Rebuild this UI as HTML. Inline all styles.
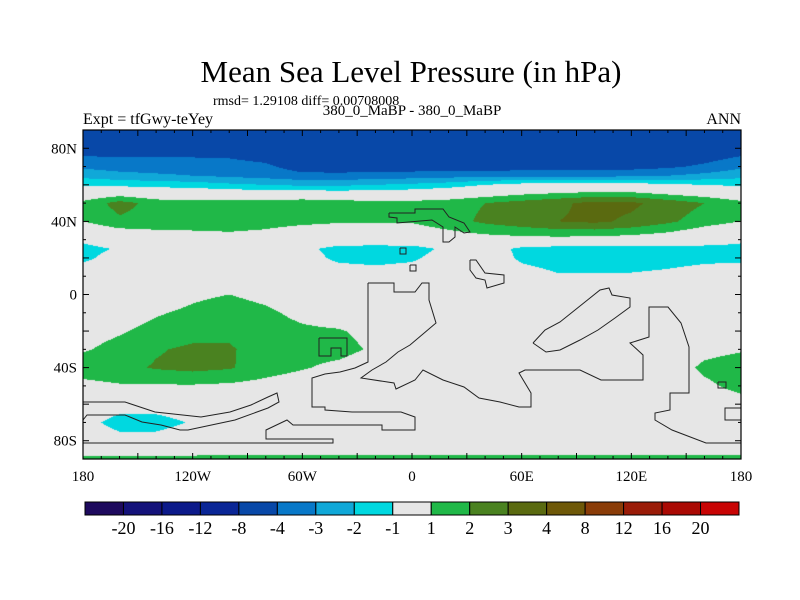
<!DOCTYPE html>
<html><head><meta charset="utf-8"><style>
body{margin:0;background:#fff;width:800px;height:600px;overflow:hidden;position:relative;font-family:"Liberation Serif",serif;}
.t{position:absolute;white-space:nowrap;color:#000;}
</style></head><body>
<div class="t" style="left:0;width:822px;text-align:center;top:54px;font-size:31px;">Mean Sea Level Pressure (in hPa)</div>
<div class="t" style="left:213px;top:94px;font-size:14px;">rmsd= 1.29108 diff= 0.00708008</div>
<div class="t" style="left:0;width:824px;text-align:center;top:103px;font-size:15px;">380_0_MaBP - 380_0_MaBP</div>
<div class="t" style="left:83px;top:111px;font-size:16px;">Expt = tfGwy-teYey</div>
<div class="t" style="right:59px;top:111px;font-size:16px;">ANN</div>
<canvas id="cv" width="658" height="329" style="position:absolute;left:83px;top:130px;"></canvas>
<svg id="sv" width="800" height="600" style="position:absolute;left:0;top:0;"></svg>
<script>
const lons=[-180,-160,-140,-120,-100,-80,-60,-40,-20,0,20,40,60,80,100,120,140,160,180];
const lats=[90,80,70,65,60,50,40,30,25,20,10,0,-10,-20,-30,-40,-50,-60,-70,-80,-90];
const r90=[-6,-6,-6,-6,-6,-6,-6,-6,-6,-6,-6,-6,-6,-6,-6,-6,-6,-6,-6];
const r80=[-4.6,-4.5,-4.4,-4.4,-4.5,-4.8,-5.5,-5.5,-5.5,-5.5,-5.5,-5.5,-5.5,-5.5,-5.5,-5.5,-5.3,-5.0,-4.6];
const r70=[-3.2,-3.5,-3.6,-3.6,-3.6,-3.8,-4.5,-4.6,-4.6,-4.6,-4.6,-4.6,-4.5,-4.5,-4.4,-4.4,-4.2,-3.8,-3.2];
const r65=[-2.3,-2.6,-2.8,-3.0,-3.2,-3.4,-3.7,-3.7,-3.6,-3.5,-3.4,-3.3,-3.3,-3.3,-3.3,-3.2,-3.0,-2.7,-2.3];
const r60=[-1.2,-1.3,-1.4,-1.5,-1.8,-2.0,-2.2,-2.2,-2.0,-1.8,-1.5,-1.0,-0.6,-0.5,-0.5,-0.5,-0.8,-1.0,-1.2];
const r50=[1.3,2.4,1.6,1.5,1.5,1.6,1.8,1.6,1.4,1.4,1.6,2.0,2.4,2.8,3.3,3.2,2.6,2.0,1.3];
const r40=[1.0,1.8,1.6,1.5,1.4,1.3,1.2,1.1,1.1,1.1,1.6,2.2,2.6,3.0,3.2,2.8,2.2,1.5,1.0];
const r30=[-0.8,-0.3,0.3,0.5,0.7,0.6,0.2,0,0,0,0.3,0.5,0.6,0.6,0.5,0.4,0.2,-0.3,-0.8];
const r25=[-1.3,-0.9,-0.3,0,0,0,-0.6,-1.5,-1.6,-1.5,-0.7,-0.3,-1.3,-1.6,-1.7,-1.6,-1.5,-1.4,-1.3];
const r20=[-1.2,-0.6,-0.2,0,0,0,-0.4,-1.3,-1.4,-1.2,-0.4,-0.2,-1.2,-1.5,-1.5,-1.4,-1.3,-1.2,-1.2];
const r10=[-0.4,-0.2,0,0.2,0.3,0.2,0,-0.2,-0.4,-0.3,-0.2,-0.2,-0.5,-0.9,-0.9,-0.9,-0.8,-0.6,-0.4];
const r00=[0,0.1,0.4,0.8,1.0,0.7,0.2,0,0,0,0,0,0,0,0,0,0,0,0];
const rS10=[0.3,0.5,0.9,1.2,1.5,1.2,0.7,0.3,0,0,0,0,0,0,0,0,0,0,0.3];
const rS20=[0.6,0.9,1.3,1.6,1.8,1.5,1.2,1.1,0.6,0,0,0,0,0,0,0,0,0,0.6];
const rS30=[0.9,1.3,1.9,2.2,2.1,1.6,1.4,1.4,0.8,0,0,0,0,0,0,0,0.3,0.7,0.9];
const rS40=[1.5,1.7,2.1,2.3,2.1,1.5,1.1,0.7,0.2,0,0,0,0,0,0,0,0.4,1.2,1.5];
const rS50=[0.7,0.9,0.9,0.9,0.8,0.6,0.3,0,0,0,0,0,0,0,0,0,0,0.8,1.3];
const rS60=[-0.2,-0.5,-0.5,-0.3,0,0,0,0,0,0,0,0,0,0,0,0,0,0.3,0.6];
const rS70=[-0.6,-1.4,-1.4,-0.9,-0.3,0,0,0,0,0,0,0,0,0,0,0,0,0,0];
const rS80=[-0.3,-0.6,-0.6,-0.3,0,0,0,0,0,0,0,0,0,0,0,0,0,0,0];
const rS90=[1.3,1.3,1.3,1.3,1.3,1.3,1.3,1.3,1.3,1.3,1.3,1.3,1.3,1.3,1.3,1.3,1.3,1.3,1.3];
const field=[r90,r80,r70,r65,r60,r50,r40,r30,r25,r20,r10,r00,rS10,rS20,rS30,rS40,rS50,rS60,rS70,rS80,rS90];
const levels=[-20,-16,-12,-8,-4,-3,-2,-1,1,2,3,4,8,12,16,20];
const colors=["#1e0a5e","#14127a","#0c1a8a","#0a2696","#0848a8","#0878c8","#10a8d8","#00d8e0","#e6e6e6","#20b848","#4a8220","#5a6a10","#6e5808","#8a3c08","#9a1c08","#aa0a04","#c80404"];
const lonTicks=[-180,-120,-60,0,60,120,180];
const lonLabels=["180","120W","60W","0","60E","120E","180"];
const latTicks=[80,40,0,-40,-80];
const latLabels=["80N","40N","0","40S","80S"];

const X0=83,X1=741,Y0=130,Y1=459;
function xOf(lon){return X0+(lon+180)/360*(X1-X0);}
function yOf(lat){return Y0+(90-lat)/180*(Y1-Y0);}
function hex(c){return [parseInt(c.substr(1,2),16),parseInt(c.substr(3,2),16),parseInt(c.substr(5,2),16)];}
function binOf(v){let i=0;while(i<levels.length&&v>=levels[i])i++;return i;}
function sample(lon,lat){
  let fi=(lon+180)/20;let i=Math.min(Math.floor(fi),lons.length-2);let tx=fi-i;
  let j=0;while(j<lats.length-2&&lat<lats[j+1])j++;
  let ty=(lats[j]-lat)/(lats[j]-lats[j+1]);
  const a=field[j][i],b=field[j][i+1],c=field[j+1][i],d=field[j+1][i+1];
  return (a*(1-tx)+b*tx)*(1-ty)+(c*(1-tx)+d*tx)*ty;
}
const cv=document.getElementById('cv');const ctx=cv.getContext('2d');
const W=cv.width,H=cv.height;const img=ctx.createImageData(W,H);
const rgb=colors.map(hex);
for(let py=0;py<H;py++){const lat=90-(py+0.5)/H*180;
 for(let px=0;px<W;px++){const lon=-180+(px+0.5)/W*360;
  const c=rgb[binOf(sample(lon,lat))];const k=(py*W+px)*4;
  img.data[k]=c[0];img.data[k+1]=c[1];img.data[k+2]=c[2];img.data[k+3]=255;}}
ctx.putImageData(img,0,0);

const NS="http://www.w3.org/2000/svg";const sv=document.getElementById('sv');
function mk(tag,at){const e=document.createElementNS(NS,tag);for(const k in at)e.setAttribute(k,at[k]);sv.appendChild(e);return e;}
const coasts=[
"368,283 394,283 394,292 415,292 422,283 429,283 429,300 436,323 423,334 410,345 398,352 386,362 372,370 361,378 394,383 396,389 415,380 423,370 443,380 464,387 479,398 500,402 519,407 531,407 531,393 519,373 525,370 580,370 601,380 643,380 643,355 630,343 649,337 649,307 668,307 681,323 689,347 689,393 670,393 670,410 655,413 655,420 672,430 706,443 741,443",
"368,283 368,362 355,368 340,372 325,374 312,378 312,407 325,407 325,410 352,412 401,412 415,417 415,430 382,430 382,425 293,425 287,420 266,430 266,439 333,439 333,443 83,443",
"83,402 125,402 155,412 201,417 230,412 251,405 268,397 277,393 279,402 268,408 235,420 188,430 180,430 161,425 142,422 125,415 87,415 83,420",
"389,213 415,213 415,209 443,209 449,217 464,223 470,232 464,233 455,227 455,237 449,242 443,242 443,227 432,220 397,223 397,218 389,217 389,213",
"470,260 476,260 485,273 504,275 504,283 487,288 485,280 476,278 470,270 470,260",
"533,343 545,330 560,322 575,310 590,298 600,290 609,288 612,295 630,298 630,307 615,318 598,330 580,340 560,350 546,352 533,343",
"400,248 406,248 406,254 400,254 400,248","410,265 416,265 416,271 410,271 410,265",
"319,338 347,338 347,356 341,356 341,348 331,348 331,356 319,356 319,338",
"741,408 725,408 725,420 741,420","718,382 726,382 726,388 718,388 718,382"];
coasts.forEach((p,i)=>{const e=mk('polyline',{points:p,fill:'none',stroke:'#222','stroke-width':1});

});
const fr=mk('rect',{x:X0,y:Y0,width:X1-X0,height:Y1-Y0,fill:'none',stroke:'#000','stroke-width':1.2});


for(let lon=-180;lon<=180;lon+=10){const x=xOf(lon);const L=(lon%30===0)?6:3;
 mk('line',{x1:x,y1:Y1,x2:x,y2:Y1-L,stroke:'#000'});mk('line',{x1:x,y1:Y0,x2:x,y2:Y0+L,stroke:'#000'});}
for(let lat=-90;lat<=90;lat+=10){const y=yOf(lat);const L=(lat%20===0)?6:3;
 mk('line',{x1:X0,y1:y,x2:X0+L,y2:y,stroke:'#000'});mk('line',{x1:X1,y1:y,x2:X1-L,y2:y,stroke:'#000'});}
lonTicks.forEach((v,i)=>{const t=mk('text',{x:xOf(v),y:481,'text-anchor':'middle','font-size':15,'font-family':'Liberation Serif, serif'});
t.textContent=lonLabels[i];

});
latTicks.forEach((v,i)=>{const t=mk('text',{x:77,y:yOf(v)+5,'text-anchor':'end','font-size':15,'font-family':'Liberation Serif, serif'});
t.textContent=latLabels[i];

});
const CB0=85,CB1=739,CBY=502,CBH=13;const bw=(CB1-CB0)/colors.length;
colors.forEach((c,i)=>{const r=mk('rect',{x:CB0+i*bw,y:CBY,width:bw,height:CBH,fill:c,stroke:'#000','stroke-width':1});

});
levels.forEach((v,i)=>{const t=mk('text',{x:CB0+(i+1)*bw,y:534,'text-anchor':'middle','font-size':18,'font-family':'Liberation Serif, serif'});
t.textContent=String(v);

});
</script>
</body></html>
